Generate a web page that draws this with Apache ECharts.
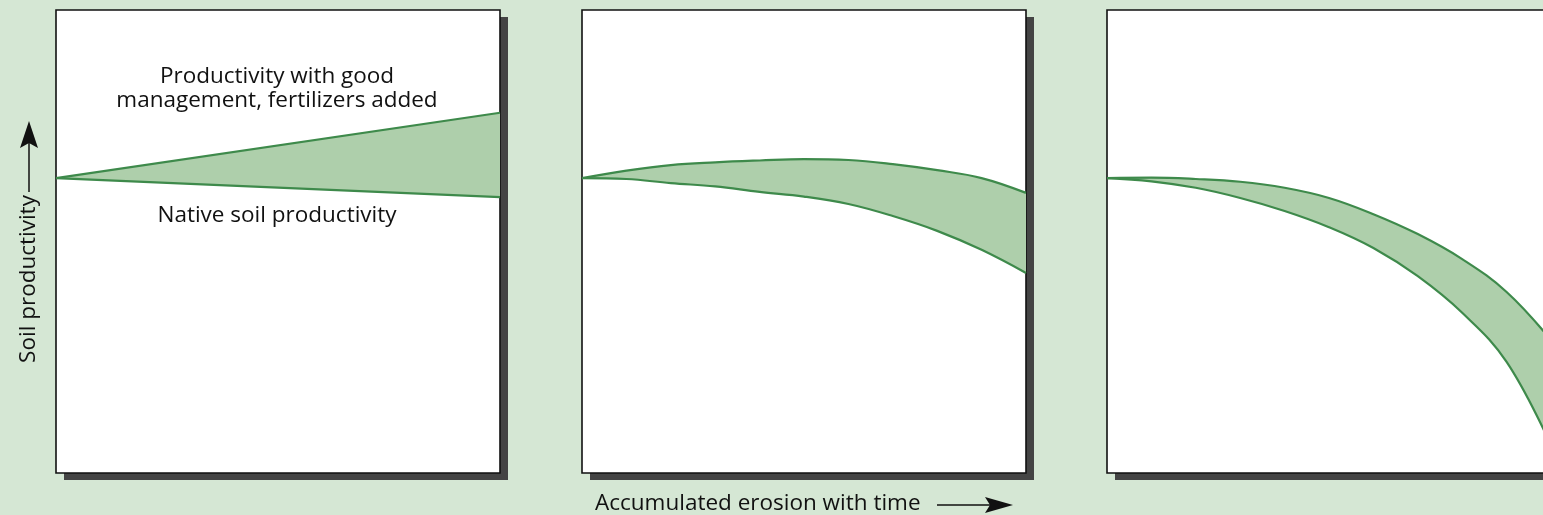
<!DOCTYPE html>
<html>
<head>
<meta charset="utf-8">
<script src="https://cdn.jsdelivr.net/npm/echarts@6/dist/echarts.min.js"></script>
<style>
  html, body { margin: 0; padding: 0; background: #d5e7d4; }
  #chart { width: 1543px; height: 515px; }
</style>
</head>
<body>
<div id="chart"></div>
<script>
// ---- data (erosion progress 0..100, productivity 0..100) ----
const p1X = [0, 100];
const p1Upper = [63.7, 77.8];
const p1Lower = [63.7, 59.6];

const curveX = [0, 10, 20, 30, 40, 50, 60, 70, 80, 90, 100];
const p2Upper = [63.7, 65.3, 66.5, 67.1, 67.5, 67.8, 67.6, 66.7, 65.4, 63.7, 60.5];
const p2Lower = [63.7, 63.5, 62.6, 61.9, 60.7, 59.7, 58.1, 55.5, 52.3, 48.2, 43.2];

const p3Upper = [63.7, 63.8, 63.5, 62.9, 61.6, 59.4, 55.9, 51.6, 46.2, 39.1, 28.7];
const p3Lower = [63.7, 63.0, 61.6, 59.4, 56.6, 53.1, 48.6, 42.5, 34.6, 24.0, 6.0];

const labelTop1 = 'Productivity with good';
const labelTop2 = 'management, fertilizers added';
const labelBottom = 'Native soil productivity';
const yTitle = 'Soil productivity';
const xTitle = 'Accumulated erosion with time';

// ---- styles ----
const LINE = '#3e8a4b';
const FILL = '#aecfab';
const FONT = '"Open Sans", "DejaVu Sans", sans-serif';
const FSIZE = 22.5;

const panels = [
  { left: 56, x: p1X, upper: p1Upper, lower: p1Lower, smooth: false },
  { left: 582, x: curveX, upper: p2Upper, lower: p2Lower, smooth: 0.4 },
  { left: 1107, x: curveX, upper: p3Upper, lower: p3Lower, smooth: 0.4 }
];

const grid = [], xAxis = [], yAxis = [], series = [];
panels.forEach((p, i) => {
  const geom = { left: p.left, top: 10, width: 444, height: 463, outerBoundsMode: 'none', containLabel: false };
  // background panel with drop shadow
  grid.push(Object.assign({
    show: true, backgroundColor: '#ffffff', borderWidth: 0,
    shadowColor: '#444444', shadowOffsetX: 8, shadowOffsetY: 7, shadowBlur: 0
  }, geom));
  // border panel
  grid.push(Object.assign({
    show: true, backgroundColor: 'transparent', borderColor: '#111111', borderWidth: 1.6
  }, geom));
  for (let k = 0; k < 2; k++) {
    const gi = i * 2 + k;
    xAxis.push({ type: 'category', gridIndex: gi, data: p.x.map(String), boundaryGap: false, show: false });
    yAxis.push({ type: 'value', gridIndex: gi, min: 0, max: 100, show: false });
  }
  const ai = i * 2 + 1;
  const bandData = p.upper.map((u, j) => u - p.lower[j]);
  series.push({
    type: 'line', xAxisIndex: ai, yAxisIndex: ai, stack: 'band' + i,
    data: p.lower, smooth: p.smooth, showSymbol: false, z: 4,
    lineStyle: { color: LINE, width: 2.2 }
  });
  series.push({
    type: 'line', xAxisIndex: ai, yAxisIndex: ai, stack: 'band' + i,
    data: bandData, smooth: p.smooth, showSymbol: false, z: 3,
    lineStyle: { color: LINE, width: 2.2 },
    areaStyle: { color: FILL, opacity: 1 }
  });
});

const txt = (t, x, y, align, extra) => Object.assign({
  type: 'text', x: x, y: y,
  style: { text: t, fill: '#111111', font: FSIZE + 'px ' + FONT, align: align, verticalAlign: 'middle' }
}, extra || {});

const graphic = [
  txt(labelTop1, 277, 77, 'center'),
  txt(labelTop2, 277, 101, 'center'),
  txt(labelBottom, 277, 216, 'center'),
  txt(yTitle, 29, 279, 'center', { rotation: Math.PI / 2 }),
  { type: 'line', shape: { x1: 29, y1: 192, x2: 29, y2: 142 }, style: { stroke: '#111', lineWidth: 1.5 } },
  { type: 'polygon', shape: { points: [[29, 121], [38, 148], [29, 143], [20, 148]] }, style: { fill: '#111' } },
  txt(xTitle, 595, 504, 'left'),
  { type: 'line', shape: { x1: 937, y1: 505, x2: 992, y2: 505 }, style: { stroke: '#111', lineWidth: 1.5 } },
  { type: 'polygon', shape: { points: [[1013, 505], [985, 497], [990, 505], [985, 513]] }, style: { fill: '#111' } }
];

const chart = echarts.init(document.getElementById('chart'), null, { renderer: 'canvas' });
chart.setOption({
  backgroundColor: '#d5e7d4',
  animation: false,
  grid: grid,
  xAxis: xAxis,
  yAxis: yAxis,
  series: series,
  graphic: graphic
});
</script>
</body>
</html>
